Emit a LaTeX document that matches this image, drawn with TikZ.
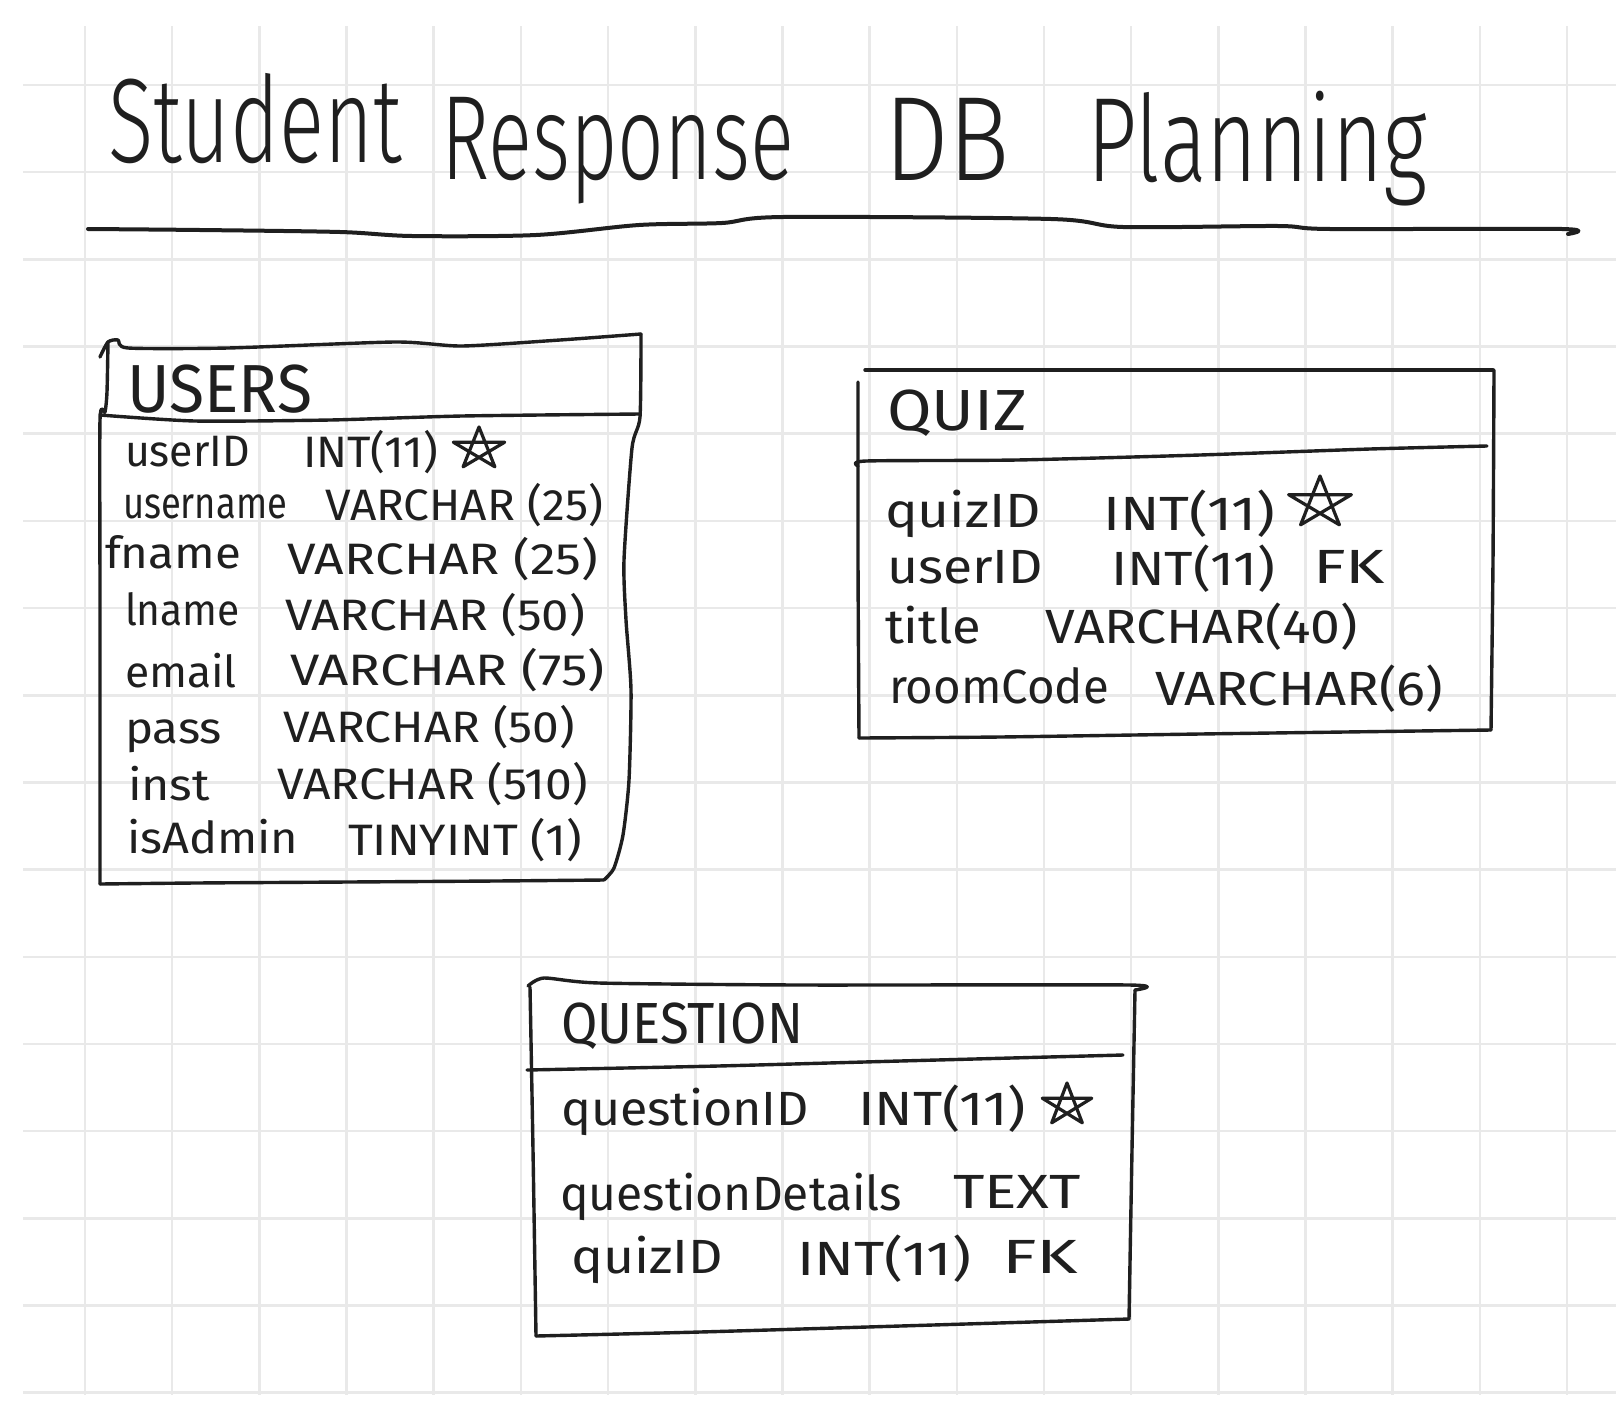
\documentclass[tikz,border=0pt]{standalone}
\usepackage{graphicx}
\usepackage{fontspec}
\setmainfont{Fira Sans}
\newfontfamily\titlefont{Fira Sans Light}
\definecolor{ink}{HTML}{1F1F1F}
\definecolor{gridgray}{HTML}{E9E9E9}
% squeeze a piece of text to a given width, keeping its height
\newcommand\fitto[2]{\resizebox{#1pt}{\height}{#2}}
\tikzset{
  pen/.style={draw=ink, line width=3.4pt, line cap=round, line join=round},
  gridline/.style={draw=gridgray, line width=2.6pt},
  hand/.style={anchor=base west, inner sep=0pt, outer sep=0pt, text=ink},
  titletext/.style={hand, font=\titlefont\fontsize{120}{124}\selectfont},
  headbig/.style={hand, font=\fontsize{68}{70}\selectfont},
  headtext/.style={hand, font=\fontsize{58}{60}\selectfont},
  rowsmall/.style={hand, font=\fontsize{44}{46}\selectfont},
  rowtext/.style={hand, font=\fontsize{48}{50}\selectfont},
  pkstar/.pic={\draw[pen, line width=3.2pt]
      (0,-1) -- (-0.588,0.809) -- (0.951,-0.309) -- (-0.951,-0.309) -- (0.588,0.809) -- cycle;},
}
\begin{document}
\begin{tikzpicture}[x=1pt, y=-1pt]
\fill[white] (0,0) rectangle (1616,1400);
\useasboundingbox (0,0) rectangle (1616,1400);

% squared paper
\foreach \k in {0,...,17} \draw[gridline] ({85+87.18*\k},26) -- ({85+87.18*\k},1395);
\foreach \k in {0,...,15} \draw[gridline] (23,{85+87.18*\k}) -- (1616,{85+87.18*\k});

% title
\node[titletext] (t1) at (108,162) {\fitto{294}{Student}};
\node[titletext] (t2) at (441,179) {\fitto{353}{Response}};
\node[titletext] (t3) at (884,180) {\fitto{126}{DB}};
\node[titletext] (t4) at (1087,181) {\fitto{340}{Planning}};
\draw[pen, line width=4pt] plot[smooth, tension=0.5] coordinates
  {(88,229) (200,230) (340,232) (412,236) (536,235) (639,225) (722,223) (783,217)
   (1051,219) (1123,227) (1278,226) (1330,229) (1562,229) (1568,234)};

% ---------- USERS ----------
\draw[pen] plot[smooth, tension=0.4] coordinates
  {(100,357) (108,342) (118,340) (128,348) (228,348) (395,342) (462,346) (560,340) (641,334)};
\draw[pen] plot[smooth, tension=0.4] coordinates
  {(108,342) (107,392) (105,412) (100,420) (100,600) (100,884)};
\draw[pen] plot[smooth, tension=0.4] coordinates
  {(641,334) (640,417) (632,448) (624,560) (626,620) (631,690) (629,780) (623,835) (614,868) (604,880)};
\draw[pen] plot[smooth, tension=0.4] coordinates
  {(100,884) (195,883) (348,882) (495,881) (604,880)};
\draw[pen] plot[smooth, tension=0.4] coordinates
  {(100,415) (195,421) (330,420) (462,416) (640,414)};

\node[headbig] (uh) at (127,412) {\fitto{185}{USERS}};
\node[rowsmall] (u1n) at (125,466) {\fitto{125}{userID}};
\node[rowsmall] (u1t) at (303,467) {\fitto{135}{INT(11)}};
\pic at (479,449) [xscale=27, yscale=22] {pkstar};
\node[rowsmall] (u2n) at (123,518) {\fitto{164}{username}};
\node[rowsmall] (u2t) at (325,520) {\fitto{278}{VARCHAR (25)}};
\node[rowsmall] (u3n) at (105,568) {\fitto{136}{fname}};
\node[rowsmall] (u3t) at (287,574) {\fitto{311}{VARCHAR (25)}};
\node[rowsmall] (u4n) at (125,625) {\fitto{115}{lname}};
\node[rowsmall] (u4t) at (285,630) {\fitto{300}{VARCHAR (50)}};
\node[rowsmall] (u5n) at (125,687) {\fitto{112}{email}};
\node[rowsmall] (u5t) at (290,685) {\fitto{315}{VARCHAR (75)}};
\node[rowsmall] (u6n) at (125,743) {\fitto{97}{pass}};
\node[rowsmall] (u6t) at (283,742) {\fitto{292}{VARCHAR (50)}};
\node[rowsmall] (u7n) at (128,800) {\fitto{82}{inst}};
\node[rowsmall] (u7t) at (277,799) {\fitto{311}{VARCHAR (510)}};
\node[rowsmall] (u8n) at (127,853) {\fitto{171}{isAdmin}};
\node[rowsmall] (u8t) at (348,855) {\fitto{234}{TINYINT (1)}};

% ---------- QUIZ ----------
\draw[pen] (865,370) -- (1493,370);
\draw[pen] plot[smooth, tension=0.4] coordinates {(858,382) (858,560) (859,738)};
\draw[pen] plot[smooth, tension=0.4] coordinates {(1494,370) (1493,560) (1491,730)};
\draw[pen] plot[smooth, tension=0.4] coordinates
  {(859,738) (1000,737) (1200,734) (1491,730)};
\draw[pen] plot[smooth, tension=0.4] coordinates
  {(858,466) (866,461) (1017,460) (1200,455) (1370,449) (1487,446)};

\node[headtext] (qh) at (887,430) {\fitto{140}{QUIZ}};
\node[rowtext] (q1n) at (885,527) {\fitto{156}{quizID}};
\node[rowtext] (q1t) at (1103,530) {\fitto{172}{INT(11)}};
\pic at (1320,503) [xscale=33, yscale=27] {pkstar};
\node[rowtext] (q2n) at (887,583) {\fitto{156}{userID}};
\node[rowtext] (q2t) at (1111,585) {\fitto{164}{INT(11)}};
\node[rowtext] (q2k) at (1313,583) {\fitto{72}{FK}};
\node[rowtext] (q3n) at (885,643) {\fitto{96}{title}};
\node[rowtext] (q3t) at (1045,643) {\fitto{313}{VARCHAR(40)}};
\node[rowtext] (q4n) at (889,703) {\fitto{220}{roomCode}};
\node[rowtext] (q4t) at (1155,705) {\fitto{288}{VARCHAR(6)}};

% ---------- QUESTION ----------
\draw[pen] plot[smooth, tension=0.4] coordinates
  {(528,986) (544,978) (599,983) (800,985) (1129,985) (1135,990)};
\draw[pen] plot[smooth, tension=0.4] coordinates {(530,987) (533,1150) (536,1336)};
\draw[pen] plot[smooth, tension=0.4] coordinates {(1135,990) (1132,1150) (1129,1319)};
\draw[pen] plot[smooth, tension=0.4] coordinates
  {(536,1336) (700,1332) (900,1326) (1129,1319)};
\draw[pen] plot[smooth, tension=0.4] coordinates
  {(527,1070) (718,1066) (900,1061) (1123,1055)};

\node[headtext] (eh) at (561,1043) {\fitto{242}{QUESTION}};
\node[rowtext] (e1n) at (561,1125) {\fitto{248}{questionID}};
\node[rowtext] (e1t) at (858,1125) {\fitto{168}{INT(11)}};
\pic at (1067,1105) [xscale=26, yscale=22] {pkstar};
\node[rowtext] (e2n) at (560,1210) {\fitto{342}{questionDetails}};
\node[rowtext] (e2t) at (953,1208) {\fitto{128}{TEXT}};
\node[rowtext] (e3n) at (571,1273) {\fitto{152}{quizID}};
\node[rowtext] (e3t) at (797,1275) {\fitto{174}{INT(11)}};
\node[rowtext] (e3k) at (1002,1273) {\fitto{76}{FK}};
\end{tikzpicture}
\end{document}
